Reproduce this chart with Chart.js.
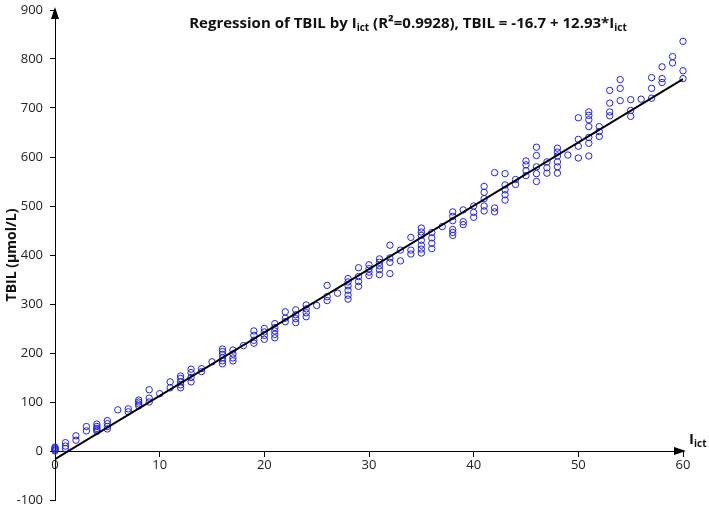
<!DOCTYPE html>
<html>
<head>
<meta charset="utf-8">
<script src="https://cdn.jsdelivr.net/npm/chart.js@4.4.1/dist/chart.umd.min.js"></script>
<style>
  html, body { margin: 0; padding: 0; background: #fff; }
  #wrap { position: relative; width: 709px; height: 508px; }
  #titulo {
    position: absolute; left: 0; top: 12px; width: 816px; text-align: center;
    font: bold 15px "Open Sans", sans-serif; color: #111; white-space: nowrap;
  }
  #xlabel {
    position: absolute; left: 689px; top: 428px;
    font: bold 15px "Open Sans", sans-serif; color: #111;
  }
  sub { font-size: 10px; vertical-align: -3px; }
</style>
</head>
<body>
<div id="wrap">
  <canvas id="grafico" width="709" height="508"></canvas>
  <div id="titulo">Regression of TBIL by I<sub>ict</sub> (R²=0.9928), TBIL = -16.7 + 12.93*I<sub>ict</sub></div>
  <div id="xlabel">I<sub>ict</sub></div>
</div>
<script>
// valores (I_ict, TBIL)
const iIct = [
  0, 0, 0, 0, 0,
  1, 1, 1,
  2, 2,
  3, 3,
  4, 4, 4, 4, 4,
  5, 5, 5, 5,
  6,
  7, 7,
  8, 8, 8, 8,
  9, 9, 9,
  10,
  11, 11,
  12, 12, 12, 12, 12,
  13, 13, 13, 13,
  14, 14,
  15,
  16, 16, 16, 16, 16, 16,
  17, 17, 17, 17,
  18,
  19, 19, 19, 19,
  20, 20, 20, 20,
  21, 21, 21, 21, 21,
  22, 22, 22,
  23, 23, 23, 23,
  24, 24, 24, 24,
  25,
  26, 26, 26,
  27,
  28, 28, 28, 28, 28, 28,
  29, 29, 29, 29,
  30, 30, 30, 30,
  31, 31, 31, 31, 31,
  32, 32, 32, 32,
  33, 33,
  34, 34, 34,
  35, 35, 35, 35, 35, 35, 35,
  36, 36, 36, 36,
  37,
  38, 38, 38, 38, 38, 38,
  39, 39, 39,
  40, 40, 40,
  41, 41, 41, 41, 41,
  42, 42, 42,
  43, 43, 43, 43, 43,
  44, 44,
  45, 45, 45, 45,
  46, 46, 46, 46, 46,
  47, 47, 47,
  48, 48, 48, 48, 48, 48,
  49,
  50, 50, 50, 50,
  51, 51, 51, 51, 51, 51, 51,
  52, 52, 52,
  53, 53, 53, 53,
  54, 54, 54,
  55, 55, 55,
  56,
  57, 57, 57,
  58, 58, 58,
  59, 59,
  60, 60, 60
];
const tbil = [
  0, 2, 4, 6, 8,
  17, 10, 5,
  31, 22,
  50, 41,
  55, 50, 46, 43, 40,
  62, 56, 50, 45,
  84,
  86, 80,
  104, 100, 96, 92,
  125, 108, 100,
  117,
  141, 129,
  153, 148, 141, 135, 129,
  167, 160, 150, 141,
  168, 162,
  182,
  208, 203, 197, 190, 184, 178,
  206, 198, 190, 184,
  215,
  245, 236, 226, 220,
  250, 243, 236, 228,
  260, 252, 245, 238, 231,
  284, 271, 264,
  288, 278, 270, 262,
  298, 290, 282, 274,
  297,
  338, 315, 307,
  322,
  352, 345, 337, 328, 318, 310,
  374, 356, 346, 336,
  380, 372, 365, 358,
  392, 385, 378, 370, 360,
  420, 394, 385, 362,
  410, 388,
  436, 410, 402,
  455, 447, 440, 430, 420, 412, 404,
  446, 435, 424, 413,
  458,
  488, 479, 470, 452, 446, 440,
  492, 468, 462,
  500, 487, 477,
  540, 528, 515, 500, 490,
  568, 496, 488,
  566, 543, 533, 523, 512,
  554, 544,
  592, 584, 572, 562,
  620, 603, 580, 566, 550,
  590, 578, 567,
  618, 610, 602, 590, 580, 567,
  604,
  680, 636, 622, 598,
  692, 685, 676, 662, 640, 628, 602,
  662, 652, 642,
  736, 710, 692, 684,
  758, 740, 715,
  717, 695, 683,
  718,
  762, 740, 720,
  784, 760, 752,
  805, 792,
  836, 776, 760
];

// recta de regresion: extremos en I_ict = 0 y 60
const rectaX = [0, 60];
const rectaY = [-16.7, 759.1];

const xTicks = [0, 10, 20, 30, 40, 50, 60];
const yTicks = [-100, 0, 100, 200, 300, 400, 500, 600, 700, 800, 900];

const puntos = iIct.map((x, i) => ({ x: x, y: tbil[i] }));
const recta = rectaX.map((x, i) => ({ x: x, y: rectaY[i] }));

// flechas en los extremos de los ejes
const flechas = {
  id: 'flechas',
  afterDraw(chart) {
    const { ctx, scales: { x, y } } = chart;
    const x0 = x.getPixelForValue(0);
    const y0 = y.getPixelForValue(0);
    ctx.save();
    ctx.fillStyle = '#000';
    ctx.beginPath();
    ctx.moveTo(x0, y.top - 3);
    ctx.lineTo(x0 - 4, y.top + 9);
    ctx.lineTo(x0 + 4, y.top + 9);
    ctx.closePath();
    ctx.fill();
    ctx.beginPath();
    ctx.moveTo(x.right + 3, y0);
    ctx.lineTo(x.right - 9, y0 - 4);
    ctx.lineTo(x.right - 9, y0 + 4);
    ctx.closePath();
    ctx.fill();
    ctx.restore();
  }
};

const fuenteTicks = { family: '"Open Sans", sans-serif', size: 13 };

new Chart(document.getElementById('grafico'), {
  type: 'scatter',
  data: {
    datasets: [
      {
        label: 'Regresion',
        data: recta,
        showLine: true,
        borderColor: '#000',
        borderWidth: 2,
        pointRadius: 0,
        fill: false
      },
      {
        label: 'TBIL',
        data: puntos,
        pointStyle: 'circle',
        pointRadius: 3.2,
        borderColor: 'rgb(35, 35, 230)',
        backgroundColor: 'rgba(0,0,0,0)',
        borderWidth: 1,
        clip: false
      }
    ]
  },
  options: {
    responsive: false,
    animation: false,
    layout: { padding: { top: 10, right: 26, bottom: 8, left: 4 } },
    plugins: {
      legend: { display: false },
      tooltip: { enabled: false },
      title: { display: false }
    },
    scales: {
      x: {
        type: 'linear',
        min: 0,
        max: 60,
        position: { y: 0 },
        afterBuildTicks: (scale) => { scale.ticks = xTicks.map(v => ({ value: v })); },
        afterFit: (scale) => {
          scale.height = 0;
          scale.paddingLeft = 0;
          scale.paddingRight = 0;
        },
        ticks: { font: fuenteTicks, color: '#222', padding: 1, maxRotation: 0 },
        grid: { drawOnChartArea: false, tickLength: 5, color: '#000' },
        border: { color: '#000', width: 1 }
      },
      y: {
        type: 'linear',
        min: -100,
        max: 900,
        position: 'left',
        afterBuildTicks: (scale) => { scale.ticks = yTicks.map(v => ({ value: v })); },
        afterFit: (scale) => {
          scale.width = 51;
          scale.paddingTop = 0;
          scale.paddingBottom = 0;
        },
        ticks: { font: fuenteTicks, color: '#222', padding: 7 },
        grid: { drawOnChartArea: false, tickLength: 5, color: '#000' },
        border: { color: '#000', width: 1 },
        title: {
          display: true,
          text: 'TBIL (µmol/L)',
          color: '#111',
          font: { family: '"Open Sans", sans-serif', size: 14, weight: 'bold' },
          padding: 0
        }
      }
    }
  },
  plugins: [flechas]
});
</script>
</body>
</html>
